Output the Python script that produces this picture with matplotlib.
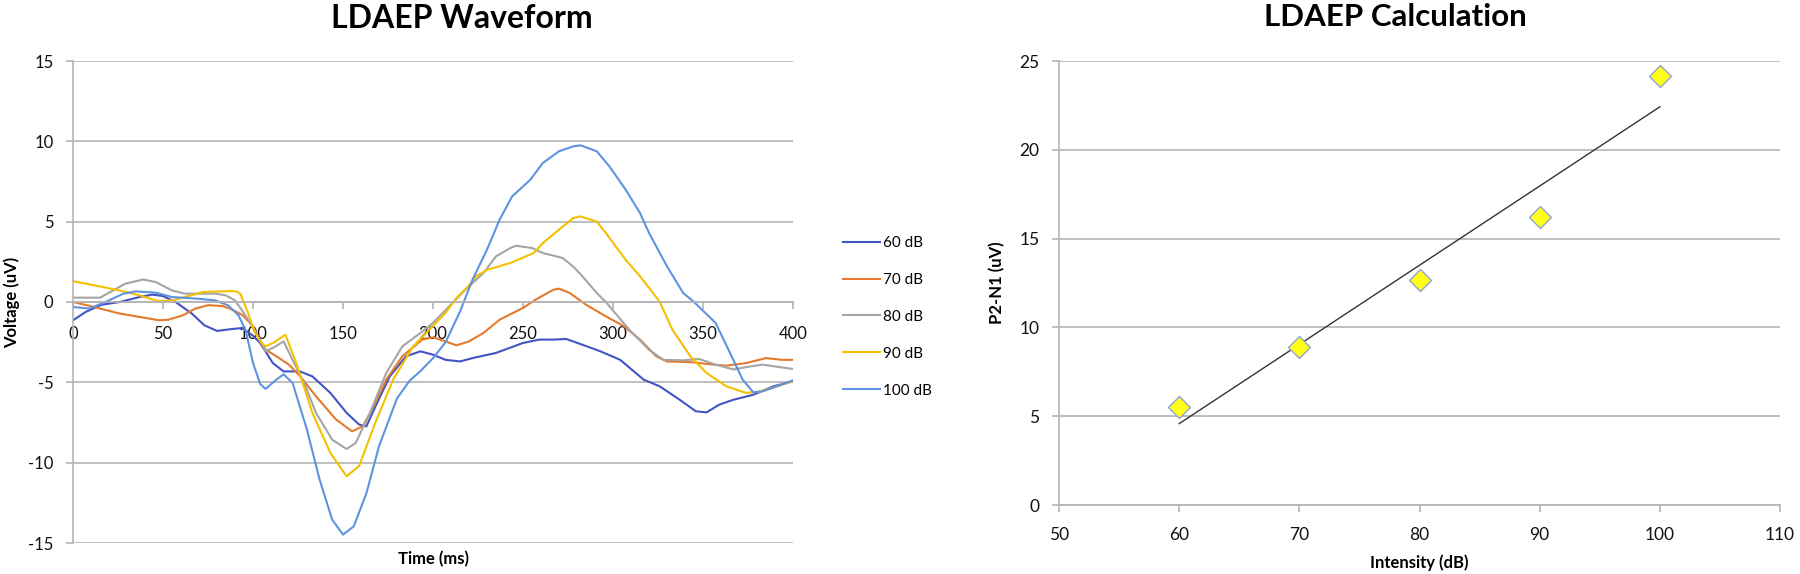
import numpy as np
import matplotlib
matplotlib.use("Agg")
import matplotlib.pyplot as plt

plt.rcParams["font.family"] = ["Lato", "DejaVu Sans"]
plt.rcParams["axes.unicode_minus"] = False

# ---- LDAEP waveform, voltage (uV) per stimulus intensity ----
T_60 = [0, 7, 16, 26, 37, 44, 50, 57, 66, 73, 80, 87, 94, 100, 104, 111, 117, 126,
        133, 143, 152, 159, 163, 168, 176, 185, 193, 200, 207, 215, 222, 235, 250,
        259, 267, 274, 283, 293, 304, 317, 326, 337, 346, 352, 359, 367, 378, 389, 400]
V_60 = [-1.14, -0.62, -0.17, 0.0, 0.31, 0.46, 0.37, 0.0, -0.72, -1.45, -1.8, -1.7,
        -1.62, -2.1, -2.55, -3.8, -4.32, -4.32, -4.63, -5.66, -6.9, -7.63, -7.74,
        -6.5, -4.63, -3.38, -3.07, -3.28, -3.6, -3.7, -3.49, -3.17, -2.55, -2.34,
        -2.34, -2.3, -2.66, -3.07, -3.6, -4.83, -5.25, -6.08, -6.8, -6.87, -6.39,
        -6.08, -5.77, -5.25, -4.94]

T_70 = [0, 4, 15, 26, 37, 48, 53, 61, 68, 75, 83, 88, 94, 100, 104, 107, 113, 120,
        126, 135, 146, 155, 161, 167, 174, 183, 194, 200, 207, 213, 220, 228, 237,
        250, 257, 267, 270, 276, 285, 296, 306, 315, 324, 330, 344, 356, 363, 374,
        385, 394, 400]
V_70 = [0.0, -0.1, -0.41, -0.72, -0.93, -1.14, -1.1, -0.83, -0.41, -0.2, -0.25,
        -0.45, -0.8, -1.5, -2.4, -2.97, -3.38, -3.9, -4.6, -5.87, -7.3, -8.05, -7.74,
        -6.5, -4.83, -3.38, -2.34, -2.2, -2.45, -2.7, -2.45, -1.93, -1.1, -0.37,
        0.15, 0.77, 0.83, 0.56, -0.17, -0.89, -1.5, -2.34, -3.38, -3.7, -3.75, -3.9,
        -3.96, -3.8, -3.49, -3.6, -3.6]

T_80 = [0, 15, 22, 29, 39, 46, 55, 62, 79, 85, 90, 95, 100, 104, 107, 112, 117, 122,
        129, 135, 144, 152, 157, 165, 174, 183, 193, 200, 209, 218, 228, 235, 243,
        246, 255, 261, 272, 278, 283, 291, 296, 309, 320, 328, 339, 348, 357, 367,
        374, 383, 400]
V_80 = [0.27, 0.27, 0.7, 1.14, 1.4, 1.24, 0.72, 0.52, 0.52, 0.41, 0.1, -0.7, -1.6,
        -2.4, -3.07, -2.8, -2.45, -3.6, -5.2, -6.9, -8.57, -9.15, -8.78, -6.9, -4.42,
        -2.76, -1.93, -1.3, -0.27, 0.77, 1.8, 2.84, 3.36, 3.5, 3.36, 3.05, 2.74, 2.2,
        1.6, 0.56, 0.0, -1.72, -2.97, -3.6, -3.63, -3.55, -3.9, -4.2, -4.05, -3.9,
        -4.17]

T_90 = [0, 26, 37, 46, 48, 55, 62, 72, 88, 91, 93, 97, 101, 105, 107, 112, 118, 124,
        133, 143, 152, 159, 168, 178, 189, 198, 207, 213, 219, 224, 230, 243, 256,
        261, 270, 278, 282, 291, 296, 307, 315, 322, 326, 333, 343, 352, 363, 374,
        382, 391, 400]
V_90 = [1.3, 0.72, 0.41, 0.1, 0.06, 0.1, 0.3, 0.62, 0.68, 0.66, 0.5, -0.6, -1.9,
        -2.6, -2.76, -2.5, -2.03, -3.8, -6.9, -9.4, -10.85, -10.2, -7.5, -4.8, -2.76,
        -1.72, -0.68, 0.25, 0.9, 1.6, 2.0, 2.43, 3.05, 3.67, 4.5, 5.23, 5.33, 5.0,
        4.3, 2.63, 1.6, 0.6, 0.0, -1.72, -3.38, -4.42, -5.25, -5.66, -5.56, -5.25,
        -4.94]

T_100 = [0, 9, 18, 28, 35, 46, 55, 70, 79, 86, 92, 96, 100, 104, 107, 113, 117, 122,
         130, 137, 144, 150, 156, 163, 170, 180, 187, 193, 200, 207, 215, 222, 230,
         237, 244, 254, 261, 270, 278, 282, 291, 298, 307, 315, 320, 330, 339, 345,
         357, 365, 372, 378, 383, 391, 400]
V_100 = [-0.31, -0.41, 0.0, 0.52, 0.66, 0.58, 0.31, 0.2, 0.1, -0.2, -0.83, -1.8,
         -3.8, -5.1, -5.41, -4.83, -4.5, -5.04, -7.95, -11.06, -13.55, -14.48, -13.96,
         -11.9, -8.98, -6.0, -4.9, -4.3, -3.5, -2.5, -0.6, 1.4, 3.26, 5.12, 6.58, 7.6,
         8.65, 9.38, 9.69, 9.75, 9.38, 8.44, 7.0, 5.54, 4.3, 2.22, 0.56, 0.0, -1.3,
         -3.17, -4.83, -5.62, -5.56, -5.25, -4.88]

SERIES_LABELS = ["60 dB", "70 dB", "80 dB", "90 dB", "100 dB"]
SERIES_T = [T_60, T_70, T_80, T_90, T_100]
SERIES_V = [V_60, V_70, V_80, V_90, V_100]
SERIES_COLORS = ["#4254C5", "#E5792C", "#A5A5A5", "#F5C000", "#5F93E0"]

# ---- LDAEP calculation: P2-N1 amplitude per intensity ----
INTENSITY_DB = [60, 70, 80, 90, 100]
P2N1_UV = [5.53, 8.91, 12.66, 16.23, 24.17]

GRID = "#B4B4B4"

fig = plt.figure(figsize=(18, 5.74), dpi=100)

# left panel: waveforms
ax1 = fig.add_axes([73 / 1800, 1 - 543 / 574, 720 / 1800, 482 / 574])
for t, v, lab, col in zip(SERIES_T, SERIES_V, SERIES_LABELS, SERIES_COLORS):
    ax1.plot(t, v, color=col, lw=1.5, label=lab, solid_joinstyle="round")
ax1.set_xlim(0, 400)
ax1.set_ylim(-15, 15)
ax1.set_xticks(np.arange(0, 401, 50))
ax1.set_yticks(np.arange(-15, 16, 5))
ax1.yaxis.grid(True, color=GRID, lw=1.2)
ax1.set_axisbelow(True)
for s in ("top", "right"):
    ax1.spines[s].set_visible(False)
ax1.spines["bottom"].set_position(("data", 0))
for s in ("left", "bottom"):
    ax1.spines[s].set_color(GRID)
    ax1.spines[s].set_linewidth(1.2)
ax1.tick_params(axis="both", direction="out", length=5, color=GRID, width=1.2,
                labelsize=12, labelcolor="#111111")
ax1.tick_params(axis="y", pad=9)
ax1.tick_params(axis="x", pad=12)
ax1.set_xlabel("Time (ms)", fontsize=12, fontweight="bold")
ax1.xaxis.set_label_coords(0.5, -0.016)
ax1.set_ylabel("Voltage (uV)", fontsize=12, fontweight="bold", labelpad=6)
fig.text(462 / 1800, 1 - 18 / 574, "LDAEP Waveform", ha="center", va="center",
         fontsize=23, fontweight="bold")

fig.legend(*ax1.get_legend_handles_labels(), loc="upper left",
           bbox_to_anchor=(843 / 1800, 1 - 236 / 574), frameon=False, fontsize=11,
           handlelength=2.4, handletextpad=0.2, labelspacing=1.5, borderpad=0,
           borderaxespad=0)

# right panel: P2-N1 vs intensity with linear trend
ax2 = fig.add_axes([1059 / 1800, 1 - 505 / 574, 721 / 1800, 444 / 574])
slope, icpt = np.polyfit(INTENSITY_DB, P2N1_UV, 1)
x_fit = np.array([INTENSITY_DB[0], INTENSITY_DB[-1]])
ax2.plot(x_fit, slope * x_fit + icpt, color="#333333", lw=1.0, zorder=2)
ax2.plot(INTENSITY_DB, P2N1_UV, ls="none", marker="D", ms=11,
         markerfacecolor="#FFFF1A", markeredgecolor="#8FA6D6", markeredgewidth=1.0,
         zorder=3)
ax2.set_xlim(50, 110)
ax2.set_ylim(0, 25)
ax2.set_xticks(np.arange(50, 111, 10))
ax2.set_yticks(np.arange(0, 26, 5))
ax2.yaxis.grid(True, color=GRID, lw=1.2)
ax2.set_axisbelow(True)
for s in ("top", "right"):
    ax2.spines[s].set_visible(False)
for s in ("left", "bottom"):
    ax2.spines[s].set_color(GRID)
    ax2.spines[s].set_linewidth(1.2)
ax2.tick_params(axis="both", direction="out", length=5, color=GRID, width=1.2,
                labelsize=12.5, labelcolor="#111111")
ax2.tick_params(axis="y", pad=9)
ax2.tick_params(axis="x", pad=11)
ax2.set_xlabel("Intensity (dB)", fontsize=12, fontweight="bold", labelpad=8)
ax2.set_ylabel("P2-N1 (uV)", fontsize=12, fontweight="bold", labelpad=10)
fig.text(1395 / 1800, 1 - 17 / 574, "LDAEP Calculation", ha="center", va="center",
         fontsize=22.5, fontweight="bold")

fig.savefig("out.png", dpi=100)
